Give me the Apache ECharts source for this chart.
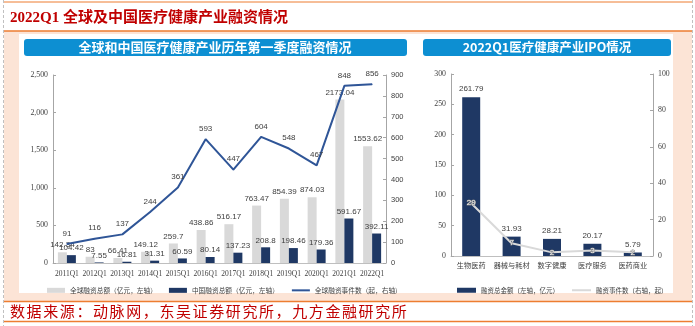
<!DOCTYPE html>
<html>
<head>
<meta charset="utf-8">
<script src="https://cdn.jsdelivr.net/npm/echarts/dist/echarts.min.js"></script>
<style>
html,body{margin:0;padding:0;background:#fff;}
#wrap{position:relative;width:695px;height:326px;overflow:hidden;}
#chart{position:absolute;left:0;top:0;width:695px;height:326px;}
#title{position:absolute;left:10px;top:6px;font-weight:bold;font-size:15px;font-family:"Liberation Serif","Noto Sans CJK SC",serif;color:#c00000;white-space:nowrap;line-height:22px;}
#source{position:absolute;left:10px;top:302px;font-size:15px;font-family:"Noto Sans CJK SC",sans-serif;color:#c00000;white-space:nowrap;line-height:18px;letter-spacing:1.6px;}
</style>
</head>
<body>
<div id="wrap">
<div id="chart"></div>
<div id="title">2022Q1 全球及中国医疗健康产业融资情况</div>
<div id="source">数据来源：动脉网，东吴证券研究所，九方金融研究所</div>
</div>
<script>
// ---- data ----
const categories = ['2011Q1','2012Q1','2013Q1','2014Q1','2015Q1','2016Q1','2017Q1','2018Q1','2019Q1','2020Q1','2021Q1','2022Q1'];
const globalAmount = [142.34, 83, 66.41, 149.12, 259.7, 438.86, 516.17, 763.47, 854.39, 874.03, 2173.04, 1553.62];
const chinaAmount = [104.42, 7.55, 16.81, 31.31, 60.59, 80.14, 137.23, 208.8, 198.46, 179.36, 591.67, 392.11];
const globalEvents = [91, 116, 137, 244, 361, 593, 447, 604, 548, 467, 848, 856];
const ipoCategories = ['生物医药','器械与耗材','数字健康','医疗服务','医药商业'];
const ipoAmount = [261.79, 31.93, 28.21, 20.17, 5.79];
const ipoEvents = [29, 7, 2, 3, 2];

const leftTitle = '全球和中国医疗健康产业历年第一季度融资情况';
const rightTitle = '2022Q1医疗健康产业IPO情况';
const seriesNames = ['全球融资总额（亿元，左轴）','中国融资总额（亿元，左轴）','全球融资事件数（起，右轴）','融资总金额（左轴，亿元）','融资事件数（右轴，起）'];

const SERIF = '"Liberation Serif", "Noto Sans CJK SC", serif';
const SANS = '"Liberation Sans", "Noto Sans CJK SC", sans-serif';
const CJK = '"Noto Sans CJK SC", sans-serif';
const axisGray = '#a6a6a6';
const txt = '#404040';

const chart = echarts.init(document.getElementById('chart'), null, {renderer: 'canvas'});

function yAxis(grid, pos, max, interval, font, fmt) {
  return {
    type: 'value', gridIndex: grid, position: pos, min: 0, max: max, interval: interval,
    splitLine: {show: false},
    axisLine: {show: true, lineStyle: {color: axisGray, width: 1}},
    axisTick: {show: true, inside: true, length: 3, lineStyle: {color: axisGray}},
    axisLabel: {fontFamily: font, fontSize: font === SANS ? 7.5 : 7.8, color: txt, margin: 5, formatter: fmt}
  };
}

const option = {
  animation: false,
  backgroundColor: '#ffffff',
  graphic: [
    {type: 'line', z: -10, shape: {x1: 3.5, y1: 0, x2: 3.5, y2: 326}, style: {stroke: '#c0c0c0', lineWidth: 1, lineDash: [3, 2]}},
    {type: 'line', z: -10, shape: {x1: 692.5, y1: 0, x2: 692.5, y2: 326}, style: {stroke: '#c0c0c0', lineWidth: 1, lineDash: [3, 2]}},
    {type: 'line', z: -10, shape: {x1: 4, y1: 2, x2: 692, y2: 2}, style: {stroke: '#ed7d31', lineWidth: 1}},
    {type: 'rect', z: -10, shape: {x: 4, y: 31, width: 688, height: 270}, style: {fill: '#fce4d6'}},
    {type: 'line', z: -9, shape: {x1: 4, y1: 31, x2: 692, y2: 31}, style: {stroke: '#ed7d31', lineWidth: 1.5}},
    {type: 'rect', z: -9, shape: {x: 19, y: 34, width: 654, height: 259}, style: {fill: '#ffffff'}},
    {type: 'line', z: -9, shape: {x1: 4, y1: 301.5, x2: 692, y2: 301.5}, style: {stroke: '#ed7d31', lineWidth: 1.5}},
    {type: 'line', z: -9, shape: {x1: 4, y1: 321.5, x2: 692, y2: 321.5}, style: {stroke: '#ed7d31', lineWidth: 1.5}},
    {type: 'rect', z: 1, shape: {x: 24, y: 39, width: 383, height: 17, r: 3}, style: {fill: '#0d8fd2'}},
    {type: 'text', z: 2, x: 215, y: 47.5, style: {text: leftTitle, fill: '#ffffff', font: 'bold 13px ' + CJK, textAlign: 'center', textVerticalAlign: 'middle'}},
    {type: 'rect', z: 1, shape: {x: 423, y: 39, width: 248, height: 17, r: 3}, style: {fill: '#0d8fd2'}},
    {type: 'text', z: 2, x: 547, y: 47.5, style: {text: rightTitle, fill: '#ffffff', font: 'bold 12.5px ' + CJK, textAlign: 'center', textVerticalAlign: 'middle'}}
  ],
  grid: [
    {left: 53, right: 309, top: 75, bottom: 63},
    {left: 451, right: 42, top: 74, bottom: 70}
  ],
  legend: [
    {
      left: 42, top: 282, itemWidth: 18, itemHeight: 5, itemGap: 12,
      textStyle: {fontSize: 6.7, fontFamily: CJK, color: txt},
      data: [{name: seriesNames[0], icon: 'rect'}, {name: seriesNames[1], icon: 'rect'}, {name: seriesNames[2], itemStyle: {opacity: 0}}]
    },
    {
      left: 452, top: 282, itemWidth: 19, itemHeight: 5, itemGap: 12,
      textStyle: {fontSize: 6.5, fontFamily: CJK, color: txt},
      data: [{name: seriesNames[3], icon: 'rect'}, {name: seriesNames[4], itemStyle: {opacity: 0}}]
    }
  ],
  xAxis: [
    {
      type: 'category', gridIndex: 0, data: categories,
      axisLine: {lineStyle: {color: '#bfbfbf'}}, axisTick: {show: false},
      axisLabel: {interval: 0, fontFamily: SERIF, fontSize: 7.5, color: txt, margin: 7}
    },
    {
      type: 'category', gridIndex: 1, data: ipoCategories,
      axisLine: {lineStyle: {color: '#bfbfbf'}}, axisTick: {show: false},
      axisLabel: {interval: 0, fontFamily: CJK, fontSize: 7.2, color: txt, margin: 6}
    }
  ],
  yAxis: [
    yAxis(0, 'left', 2500, 500, SERIF, v => v.toLocaleString('en-US')),
    yAxis(0, 'right', 900, 100, SANS),
    yAxis(1, 'left', 300, 50, SERIF),
    yAxis(1, 'right', 100, 20, SERIF)
  ],
  series: [
    {
      name: seriesNames[0], type: 'bar', xAxisIndex: 0, yAxisIndex: 0, data: globalAmount,
      barWidth: 9, barGap: '0%', itemStyle: {color: '#d9d9d9'},
      label: {show: true, position: 'top', distance: 3, fontFamily: SANS, fontSize: 8, color: txt}
    },
    {
      name: seriesNames[1], type: 'bar', xAxisIndex: 0, yAxisIndex: 0, data: chinaAmount,
      barWidth: 9, barGap: '0%', itemStyle: {color: '#1f3864'},
      label: {show: true, position: 'top', distance: 3, fontFamily: SANS, fontSize: 8, color: txt}
    },
    {
      name: seriesNames[2], type: 'line', xAxisIndex: 0, yAxisIndex: 1, data: globalEvents,
      symbol: 'circle', symbolSize: 1, itemStyle: {color: '#2f5597'},
      lineStyle: {color: '#2f5597', width: 2}, z: 5,
      label: {show: true, position: 'top', distance: 6, fontFamily: SANS, fontSize: 8, color: txt}
    },
    {
      name: seriesNames[3], type: 'bar', xAxisIndex: 1, yAxisIndex: 2, data: ipoAmount,
      barWidth: 18, itemStyle: {color: '#1f3864'},
      label: {show: true, position: 'top', distance: 4, fontFamily: SANS, fontSize: 8, color: txt}
    },
    {
      name: seriesNames[4], type: 'line', xAxisIndex: 1, yAxisIndex: 3, data: ipoEvents,
      symbol: 'circle', symbolSize: 1, itemStyle: {color: '#d9d9d9'},
      lineStyle: {color: '#d9d9d9', width: 2}, z: 5,
      label: {show: true, position: 'inside', fontFamily: SANS, fontSize: 8, color: '#f2f2f2', textBorderColor: '#7f7f7f', textBorderWidth: 1}
    }
  ]
};
chart.setOption(option);
</script>
</body>
</html>
